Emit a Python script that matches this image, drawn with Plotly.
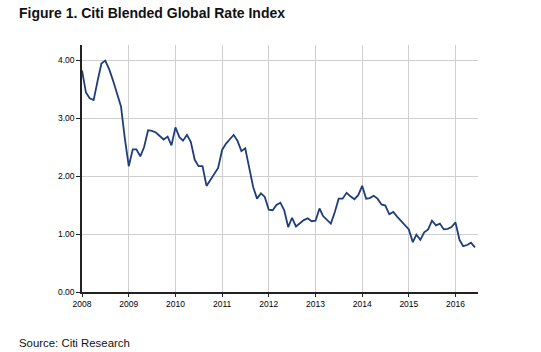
import pandas as pd
import plotly.graph_objects as go

start_month = "2008-01-01"
rate_index = [
    3.82, 3.44, 3.34, 3.31, 3.63, 3.94, 3.99, 3.84, 3.64, 3.43, 3.20, 2.65,
    2.17, 2.46, 2.46, 2.34, 2.50, 2.79, 2.78, 2.75, 2.68, 2.63, 2.68, 2.53,
    2.84, 2.67, 2.61, 2.71, 2.59, 2.28, 2.17, 2.17, 1.83, 1.93, 2.04, 2.14,
    2.45, 2.56, 2.63, 2.71, 2.61, 2.43, 2.48, 2.16, 1.81, 1.61, 1.70, 1.64,
    1.42, 1.41, 1.50, 1.54, 1.41, 1.12, 1.28, 1.13, 1.18, 1.24, 1.27, 1.22,
    1.23, 1.44, 1.31, 1.25, 1.18, 1.38, 1.61, 1.61, 1.71, 1.65, 1.60, 1.67,
    1.83, 1.61, 1.62, 1.66, 1.61, 1.51, 1.49, 1.34, 1.38, 1.30, 1.22, 1.16,
    1.08, 0.86, 0.99, 0.90, 1.03, 1.08, 1.23, 1.15, 1.18, 1.08, 1.09, 1.12,
    1.20, 0.90, 0.79, 0.81, 0.85, 0.77,
]
months = pd.date_range(start_month, periods=len(rate_index), freq="MS")
y_ticks = [0, 1, 2, 3, 4]
y_tick_labels = ["0.00", "1.00", "2.00", "3.00", "4.00"]

title_text = "<b>Figure 1. Citi Blended Global Rate Index</b>"
source_text = "Source: Citi Research"

FONT = "Arial, Liberation Sans, sans-serif"

fig = go.Figure()
fig.add_trace(go.Scatter(
    x=months, y=rate_index, mode="lines",
    line=dict(color="#1f3d7a", width=1.8),
    hoverinfo="skip", showlegend=False,
))

fig.update_layout(
    width=541, height=352,
    margin=dict(l=82, r=63, t=45, b=60),
    paper_bgcolor="white", plot_bgcolor="white",
    font=dict(family=FONT, size=9, color="#111111"),
    showlegend=False,
)
fig.update_xaxes(
    range=["2008-01-01", "2016-06-25"],
    dtick="M12", tick0="2008-01-01", tickformat="%Y",
    showgrid=True, gridcolor="#cfcfcf", gridwidth=1,
    showline=True, linecolor="#222222", linewidth=1.5,
    ticks="outside", ticklen=3, tickcolor="#222222",
    tickfont=dict(size=8.5, family=FONT, color="#000000"),
    zeroline=False,
)
fig.update_yaxes(
    range=[0, 4.26],
    tickvals=y_ticks, ticktext=y_tick_labels,
    showgrid=True, gridcolor="#cfcfcf", gridwidth=1,
    showline=True, linecolor="#222222", linewidth=1.5,
    ticks="outside", ticklen=4, tickcolor="#222222",
    tickfont=dict(size=8.5, family=FONT, color="#000000"),
    zeroline=False,
)

fig.add_annotation(
    text=title_text, xref="paper", yref="paper",
    x=-65 / 396, y=1 + 32 / 247, xanchor="left", yanchor="middle",
    showarrow=False, font=dict(size=14, family=FONT, color="#111111"),
)
fig.add_annotation(
    text=source_text, xref="paper", yref="paper",
    x=-65 / 396, y=-51 / 247, xanchor="left", yanchor="middle",
    showarrow=False, font=dict(size=11.4, family=FONT, color="#111111"),
)

fig.write_html("out.html")
